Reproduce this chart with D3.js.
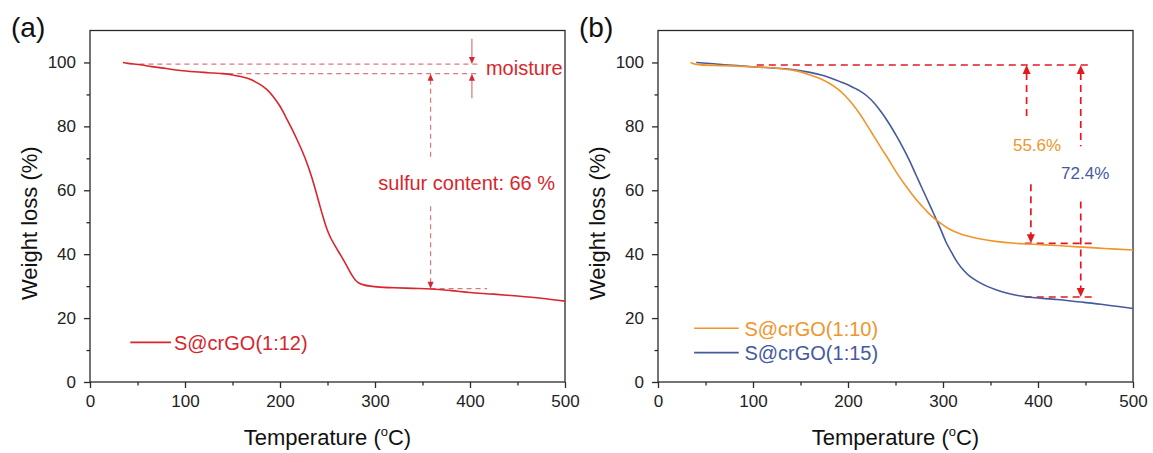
<!DOCTYPE html>
<html><head><meta charset="utf-8">
<script src="https://cdn.jsdelivr.net/npm/d3@7"></script>
<style>body{margin:0;background:#fff} text{font-family:Arial,"Liberation Sans",sans-serif}</style>
</head><body><svg id="c" width="1153" height="453"></svg>
<script>
// ---------- data ----------
const xTicks = [0, 100, 200, 300, 400, 500];
const yTicks = [0, 20, 40, 60, 80, 100];
const xMinor = [50, 150, 250, 350, 450];
const yMinor = [10, 30, 50, 70, 90];

// panel (a): S@crGO(1:12)
const tempA   = [34.7, 40, 46, 53, 65, 80, 95, 110, 125, 140, 150, 160, 168, 178, 186, 193, 200, 206, 212, 218, 224, 229, 233, 237, 241, 245, 249, 253, 258, 264, 270, 275, 279, 283, 288, 295, 305, 320, 340, 359, 380, 400, 425, 450, 475, 500];
const weightA = [100, 99.7, 99.5, 99.3, 98.7, 98.1, 97.5, 97.1, 96.8, 96.5, 96.1, 95.5, 94.8, 93.3, 91.6, 89.3, 86.3, 83.0, 79.5, 75.8, 71.8, 68.0, 64.5, 60.5, 56.2, 52.0, 48.2, 45.3, 42.6, 39.6, 36.5, 33.8, 32.0, 31.0, 30.4, 30.0, 29.7, 29.5, 29.3, 29.1, 28.6, 28.0, 27.5, 26.9, 26.2, 25.3];

// panel (b): S@crGO(1:10)
const tempB1   = [34.3, 40.2, 70, 102.7, 125, 141.7, 152, 161, 171, 180.7, 189, 196.3, 204, 211.9, 220, 227.5, 235, 243.2, 251, 259, 266.6, 272, 278.3, 284, 288, 297.8, 307, 317.3, 327, 336.8, 355, 375.9, 391.5, 420, 442, 470, 500];
const weightB1 = [100, 99.4, 99.0, 98.6, 98.2, 97.6, 96.9, 96.0, 94.9, 93.4, 91.7, 89.8, 87.2, 84.1, 80.4, 76.8, 73.2, 69.4, 65.6, 62.1, 59.1, 57.0, 54.9, 53.1, 51.9, 49.6, 47.8, 46.5, 45.6, 44.9, 44.0, 43.4, 43.2, 42.7, 42.3, 41.8, 41.3];
// panel (b): S@crGO(1:15)
const tempB2   = [40.2, 70, 102.7, 125, 141.7, 160, 172.9, 183, 192.4, 202, 212, 220, 227.5, 235, 243.2, 251, 258.8, 265, 270.5, 276, 282.2, 290, 297.8, 303, 309.5, 315, 321.2, 328, 336.8, 346, 356.4, 366, 375.9, 391.5, 420, 442, 470, 500];
const weightB2 = [100, 99.3, 98.6, 98.2, 97.8, 96.9, 96.0, 95.0, 93.9, 92.7, 91.2, 89.5, 87.3, 84.5, 80.9, 77.0, 72.8, 69.1, 65.5, 61.9, 57.9, 52.8, 47.6, 43.9, 40.3, 37.5, 35.1, 33.1, 31.4, 30.0, 28.8, 27.9, 27.2, 26.5, 25.8, 25.1, 24.2, 23.0];

// annotations (data units)
const moistureTop = 99.5, moistureBot = 96.5, moistureX = 402;
const sulfurX = 358.5, sulfurEnd = 29.2;
const b1X = [388, 392.5], b2X = 445, bTop = 99.2, b1End = 43.4, b2End = 26.6;

// ---------- layout ----------
const svg = d3.select("#c");
const yR = [382, 30.5];
const colors = {red: "#d7262d", orange: "#f0952c", blue: "#45599f", dash: "#e3171f", pink: "#e07479", axis: "#2a2a2a"};

function panel(x0, x1, label) {
  const x = d3.scaleLinear().domain([0, 500]).range([x0, x1]);
  const y = d3.scaleLinear().domain([0, 110]).range(yR);
  const g = svg.append("g");
  g.append("rect").attr("x", x0).attr("y", yR[1]).attr("width", x1 - x0).attr("height", yR[0] - yR[1])
    .attr("fill", "none").attr("stroke", colors.axis).attr("stroke-width", 1.3);
  const ax = g.append("g").attr("transform", `translate(0,${yR[0]})`)
    .call(d3.axisBottom(x).tickValues(xTicks).tickSize(6).tickPadding(7).tickFormat(d3.format("d")));
  const axm = g.append("g").attr("transform", `translate(0,${yR[0]})`)
    .call(d3.axisBottom(x).tickValues(xMinor).tickSize(3.5).tickFormat(""));
  const ay = g.append("g").attr("transform", `translate(${x0},0)`)
    .call(d3.axisLeft(y).tickValues(yTicks).tickSize(6).tickPadding(8).tickFormat(d3.format("d")));
  const aym = g.append("g").attr("transform", `translate(${x0},0)`)
    .call(d3.axisLeft(y).tickValues(yMinor).tickSize(3.5).tickFormat(""));
  [ax, axm, ay, aym].forEach(a => {
    a.select(".domain").remove();
    a.selectAll("line").attr("stroke", colors.axis).attr("stroke-width", 1.3);
    a.selectAll("text").attr("font-size", 17).attr("fill", "#222").attr("font-family", "Arial, 'Liberation Sans', sans-serif");
  });
  const cx = (x0 + x1) / 2;
  const t = g.append("text").attr("x", cx).attr("y", 445).attr("text-anchor", "middle").attr("font-size", 22).attr("fill", "#111");
  t.append("tspan").text("Temperature (");
  t.append("tspan").text("o").attr("font-size", 13).attr("dy", -9);
  t.append("tspan").text("C)").attr("dy", 9);
  g.append("text").attr("transform", `translate(${x0 - 53},${y(50) + 1}) rotate(-90)`)
    .attr("text-anchor", "middle").attr("font-size", 22).attr("fill", "#111").text("Weight loss (%)");
  g.append("text").attr("x", x0 - 79).attr("y", 37).attr("font-size", 28).attr("fill", "#111").text(label);
  return {x, y, g};
}

function arrowHead(g, px, py, dir, color, len, hw) {
  const p = d3.path();
  p.moveTo(px, py);
  p.lineTo(px - hw, py - dir * len);
  p.lineTo(px + hw, py - dir * len);
  p.closePath();
  g.append("path").attr("d", p.toString()).attr("fill", color);
}

const line = (x, y) => d3.line().x(d => x(d[0])).y(d => y(d[1])).curve(d3.curveCatmullRom.alpha(0.5));

// ---------- panel (a) ----------
{
  const {x, y, g} = panel(90, 565, "(a)");
  const dashA = "5,4";
  const pl = (x1, x2, y1, y2, dash) => g.append("line").attr("x1", x1).attr("x2", x2).attr("y1", y1).attr("y2", y2)
    .attr("stroke", colors.pink).attr("stroke-width", 1.2).attr("stroke-dasharray", dash ? dashA : null);
  pl(x(52), x(410), y(moistureTop), y(moistureTop), true);
  pl(x(136), x(410), y(moistureBot), y(moistureBot), true);
  pl(x(moistureX), x(moistureX), y(107.4), y(moistureTop) - 6, false);
  arrowHead(g, x(moistureX), y(moistureTop), 1, colors.red, 7, 3);
  pl(x(moistureX), x(moistureX), y(88.8), y(moistureBot) + 6, false);
  arrowHead(g, x(moistureX), y(moistureBot), -1, colors.red, 7, 3);
  g.append("text").attr("x", x(416.8)).attr("y", y(96.2)).attr("font-size", 20).attr("fill", colors.red).text("moisture");
  pl(x(sulfurX), x(sulfurX), y(moistureBot) + 6, y(70.2), true);
  arrowHead(g, x(sulfurX), y(moistureBot), -1, colors.red, 7, 3);
  pl(x(sulfurX), x(sulfurX), y(55), y(sulfurEnd) - 6, true);
  arrowHead(g, x(sulfurX), y(sulfurEnd), 1, colors.red, 7, 3);
  pl(x(sulfurX), x(418), y(sulfurEnd), y(sulfurEnd), true);
  g.append("text").attr("x", x(303.5)).attr("y", y(60.2)).attr("font-size", 20).attr("fill", colors.red).text("sulfur content: 66 %");
  g.append("path").datum(d3.zip(tempA, weightA)).attr("d", line(x, y)).attr("fill", "none")
    .attr("stroke", colors.red).attr("stroke-width", 1.6);
  g.append("line").attr("x1", x(42.4)).attr("x2", x(85.3)).attr("y1", y(12.4)).attr("y2", y(12.4))
    .attr("stroke", colors.red).attr("stroke-width", 1.6);
  g.append("text").attr("x", x(88.4)).attr("y", y(12.4)).attr("dy", "0.36em").attr("font-size", 20)
    .attr("fill", colors.red).text("S@crGO(1:12)");
}

// ---------- panel (b) ----------
{
  const {x, y, g} = panel(658, 1133, "(b)");
  const dashB = "7,5";
  const dl = (x1, x2, y1, y2) => g.append("line").attr("x1", x1).attr("x2", x2).attr("y1", y1).attr("y2", y2)
    .attr("stroke", colors.dash).attr("stroke-width", 1.7).attr("stroke-dasharray", dashB);
  dl(x(104), x(455), y(bTop), y(bTop));
  dl(x(386), x(456.5), y(b1End), y(b1End));
  dl(x(386), x(456.5), y(b2End), y(b2End));
  dl(x(b1X[0]), x(b1X[0]), y(bTop) + 8, y(81.7));
  arrowHead(g, x(b1X[0]), y(bTop), -1, colors.dash, 9, 4);
  dl(x(b1X[1]), x(b1X[1]), y(61.9), y(b1End) - 8);
  arrowHead(g, x(b1X[1]), y(b1End), 1, colors.dash, 9, 4);
  dl(x(b2X), x(b2X), y(bTop) + 8, y(73.8));
  arrowHead(g, x(b2X), y(bTop), -1, colors.dash, 9, 4);
  dl(x(b2X), x(b2X), y(56.5), y(b2End) - 8);
  arrowHead(g, x(b2X), y(b2End), 1, colors.dash, 9, 4);
  g.append("text").attr("x", x(399)).attr("y", y(72.3)).attr("text-anchor", "middle").attr("font-size", 17)
    .attr("fill", colors.orange).text("55.6%");
  g.append("text").attr("x", x(449.7)).attr("y", y(63.4)).attr("text-anchor", "middle").attr("font-size", 17)
    .attr("fill", colors.blue).text("72.4%");
  g.append("path").datum(d3.zip(tempB2, weightB2)).attr("d", line(x, y)).attr("fill", "none")
    .attr("stroke", colors.blue).attr("stroke-width", 1.6);
  g.append("path").datum(d3.zip(tempB1, weightB1)).attr("d", line(x, y)).attr("fill", "none")
    .attr("stroke", colors.orange).attr("stroke-width", 1.6);
  const leg = [["S@crGO(1:10)", colors.orange, 16.8], ["S@crGO(1:15)", colors.blue, 9.2]];
  leg.forEach(([name, c, w]) => {
    g.append("line").attr("x1", x(38)).attr("x2", x(85)).attr("y1", y(w)).attr("y2", y(w))
      .attr("stroke", c).attr("stroke-width", 1.6);
    g.append("text").attr("x", x(91)).attr("y", y(w)).attr("dy", "0.36em").attr("font-size", 20)
      .attr("fill", c).text(name);
  });
}
</script></body></html>
